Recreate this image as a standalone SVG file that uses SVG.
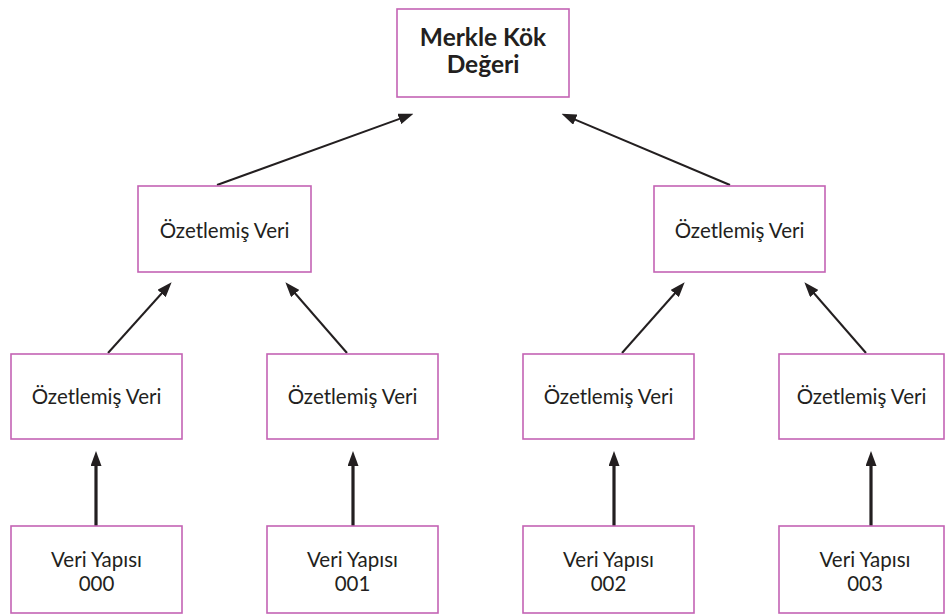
<svg xmlns="http://www.w3.org/2000/svg" width="945" height="615" viewBox="0 0 945 615">
<style>
.box{fill:#ffffff;stroke:#c463b4;stroke-width:1.6}
.t{font-family:Lato,"Open Sans","Liberation Sans",sans-serif;font-size:20.5px;fill:#231f20;text-anchor:middle}
.tb{font-family:Lato,"Open Sans","Liberation Sans",sans-serif;font-size:24.5px;font-weight:bold;fill:#231f20;text-anchor:middle}
.a{stroke:#231f20;stroke-width:2;fill:none;marker-end:url(#ah)}
.v{stroke:#231f20;stroke-width:3.2;fill:none;marker-end:url(#ah)}
</style>
<defs>
<marker id="ah" markerUnits="userSpaceOnUse" markerWidth="15" markerHeight="11" refX="6" refY="5.5" orient="auto">
<path d="M0,0 L15,5.5 L0,11 z" fill="#231f20"/>
</marker>
</defs>
<rect width="945" height="615" fill="#ffffff"/>
<g id="connectors">
<line class="a" x1="217" y1="185" x2="405" y2="116.9"/>
<line class="a" x1="730" y1="185" x2="569.8" y2="117.3"/>
<line class="a" x1="108" y1="353" x2="165.6" y2="289"/>
<line class="a" x1="347" y1="353" x2="291.3" y2="289"/>
<line class="a" x1="622" y1="353" x2="678.7" y2="289"/>
<line class="a" x1="866" y1="353" x2="810.3" y2="289"/>
<line class="v" x1="96" y1="526" x2="96" y2="460"/>
<line class="v" x1="353" y1="526" x2="353" y2="460"/>
<line class="v" x1="614" y1="526" x2="614" y2="460"/>
<line class="v" x1="871" y1="526" x2="871" y2="460"/>
</g>
<g id="root">
<rect class="box" x="397" y="9" width="172" height="88"/>
<text class="tb" x="483" y="46">Merkle Kök</text>
<text class="tb" x="483" y="73">Değeri</text>
</g>
<g id="h-left">
<rect class="box" x="138" y="186" width="173" height="86"/>
<text class="t" x="224.5" y="238">Özetlemiş Veri</text>
</g>
<g id="h-right">
<rect class="box" x="654" y="186" width="171" height="86"/>
<text class="t" x="739.5" y="238">Özetlemiş Veri</text>
</g>
<g id="h0">
<rect class="box" x="11" y="354" width="171" height="85"/>
<text class="t" x="96.5" y="404">Özetlemiş Veri</text>
</g>
<g id="h1">
<rect class="box" x="267" y="354" width="171" height="85"/>
<text class="t" x="352.5" y="404">Özetlemiş Veri</text>
</g>
<g id="h2">
<rect class="box" x="523" y="354" width="171" height="85"/>
<text class="t" x="608.5" y="404">Özetlemiş Veri</text>
</g>
<g id="h3">
<rect class="box" x="779" y="354" width="165" height="85"/>
<text class="t" x="861.5" y="404">Özetlemiş Veri</text>
</g>
<g id="d0">
<rect class="box" x="11" y="526" width="171" height="87"/>
<text class="t" x="96.5" y="567">Veri Yapısı</text>
<text class="t" x="96.5" y="591">000</text>
</g>
<g id="d1">
<rect class="box" x="267" y="526" width="171" height="87"/>
<text class="t" x="352.5" y="567">Veri Yapısı</text>
<text class="t" x="352.5" y="591">001</text>
</g>
<g id="d2">
<rect class="box" x="523" y="526" width="171" height="87"/>
<text class="t" x="608.5" y="567">Veri Yapısı</text>
<text class="t" x="608.5" y="591">002</text>
</g>
<g id="d3">
<rect class="box" x="779" y="526" width="165" height="87"/>
<text class="t" x="865" y="567">Veri Yapısı</text>
<text class="t" x="865" y="591">003</text>
</g>
</svg>
